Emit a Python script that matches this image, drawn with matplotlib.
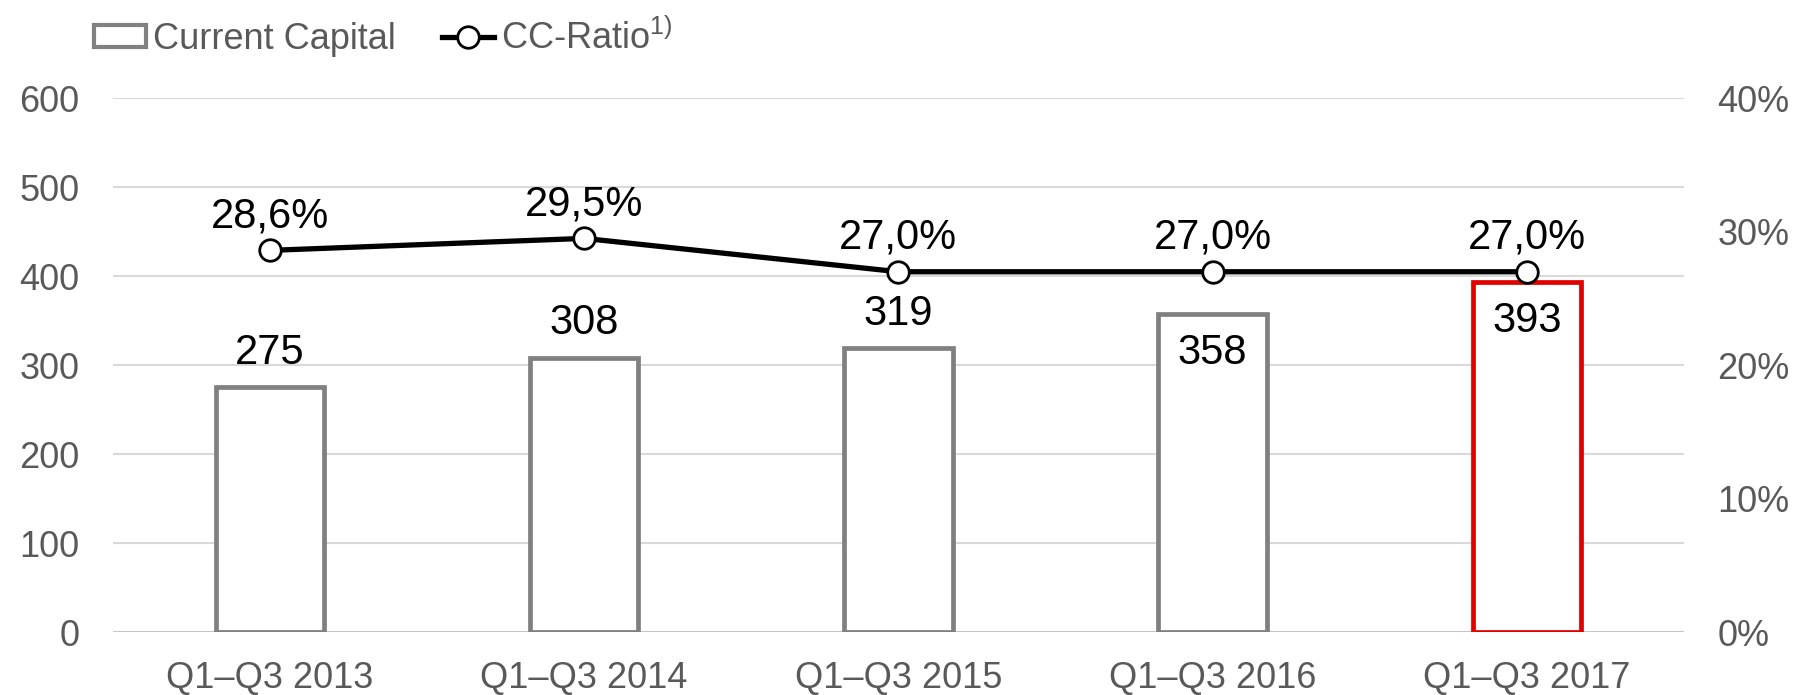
import matplotlib.pyplot as plt
from matplotlib.patches import Patch
from matplotlib.lines import Line2D

plt.rcParams['font.family'] = ['Liberation Sans', 'DejaVu Sans']

periods = ['Q1–Q3 2013', 'Q1–Q3 2014', 'Q1–Q3 2015', 'Q1–Q3 2016', 'Q1–Q3 2017']
capital = [275, 308, 319, 358, 393]
cc_ratio = [28.6, 29.5, 27.0, 27.0, 27.0]
label_inside = [False, False, False, True, True]
edge = ['#808080', '#808080', '#808080', '#808080', '#E00000']

grey_txt = '#595959'

fig = plt.figure(figsize=(18, 6.95), dpi=100)
ax = fig.add_axes([0.0626, 0.0906, 0.873, 0.768])

x = range(len(periods))
bars = ax.bar(x, capital, width=0.345, facecolor='white', edgecolor=edge, linewidth=3.4, zorder=3)

for i, v in enumerate(capital):
    off = -36 if label_inside[i] else 17
    ax.annotate(str(v), (i, v), xytext=(0, off), textcoords='offset points',
                ha='center', va='baseline', fontsize=30, color='black', zorder=5)

ax.set_xlim(-0.5, len(periods) - 0.5)
ax.set_ylim(0, 600)
ax.set_yticks(range(0, 601, 100))
ax.set_xticks(list(x))
ax.set_xticklabels(periods)
ax.tick_params(axis='y', length=0, pad=24, labelsize=26, labelcolor=grey_txt)
ax.tick_params(axis='x', length=0, pad=21, labelsize=26, labelcolor=grey_txt)
ax.yaxis.grid(True, color='#d9d9d9', linewidth=1.5, zorder=0)
ax.set_axisbelow(True)
for s in ax.spines.values():
    s.set_visible(False)
ax.axhline(0, color='#bfbfbf', linewidth=1.8, zorder=2)

ax2 = ax.twinx()
ax2.plot(list(x), cc_ratio, color='black', linewidth=3.8, marker='o', markersize=15.5,
         markerfacecolor='white', markeredgecolor='black', markeredgewidth=2, zorder=4)
for i, r in enumerate(cc_ratio):
    ax2.annotate(f'{r:.1f}%'.replace('.', ','), (i, r), xytext=(0, 16.5), textcoords='offset points',
                 ha='center', va='baseline', fontsize=30, color='black')
ax2.set_ylim(0, 40)
ax2.set_yticks(range(0, 41, 10))
ax2.set_yticklabels([f'{t}%' for t in range(0, 41, 10)])
ax2.tick_params(axis='y', length=0, pad=24, labelsize=26, labelcolor=grey_txt)
for s in ax2.spines.values():
    s.set_visible(False)

handles = [
    Patch(facecolor='white', edgecolor='#808080', linewidth=3),
    Line2D([], [], color='black', linewidth=3.8, marker='o', markersize=15.5,
           markerfacecolor='white', markeredgecolor='black', markeredgewidth=2),
]
labels = ['Current Capital', 'CC-Ratio$^{\\mathregular{1)}}$']
fig.legend(handles, labels, loc='center left', bbox_to_anchor=(0.052, 0.945),
           frameon=False, ncol=2, fontsize=26, labelcolor=grey_txt,
           handlelength=1.44, handleheight=0.55, handletextpad=0.2, columnspacing=1.28,
           borderpad=0, borderaxespad=0)

fig.savefig('out.png', dpi=100)
